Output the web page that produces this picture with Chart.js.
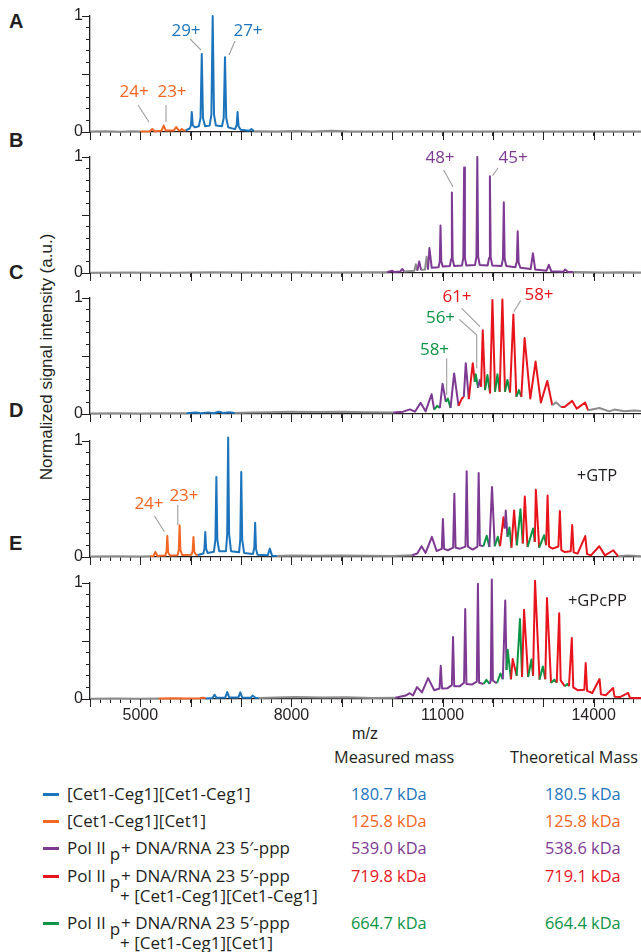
<!DOCTYPE html>
<html>
<head>
<meta charset="utf-8">
<script src="https://cdn.jsdelivr.net/npm/chart.js@4.4.0/dist/chart.umd.min.js"></script>
<style>
    body { margin: 0; background: #fff; }
    #fig { position: relative; width: 641px; height: 952px; overflow: hidden; color: #231f20; font-family: 'Open Sans', sans-serif; }
    #fig canvas { position: absolute; left: 0; }
    .txt { position: absolute; white-space: nowrap; height: 20px; line-height: 20px; }
    .letter { font-family: 'Liberation Sans', Arial, sans-serif; font-weight: bold; font-size: 20px; left: 9px; }
    .sw { position: absolute; left: 43px; width: 16px; height: 3px; }
</style>
</head>
<body>
<div id="fig">
    <div class="txt letter" style="top:11px">A</div>
    <div class="txt letter" style="top:130px">B</div>
    <div class="txt letter" style="top:262px">C</div>
    <div class="txt letter" style="top:400px">D</div>
    <div class="txt letter" style="top:533px">E</div>
    <div class="txt" style="left:-103px;top:347px;width:300px;text-align:center;transform:rotate(-90deg);font-family:'Liberation Sans',Arial,sans-serif;font-size:17px">Normalized signal intensity (a.u.)</div>
    <div class="txt" style="left:335px;top:724px;width:60px;text-align:center;font-family:'Liberation Sans',Arial,sans-serif;font-size:16px">m/z</div>
    <div id="legend"></div>
</div>

<script>
// x range and ticks (m/z)
const xMin = 4000;
const xMax = 14940;
const xMajorTicks = [4000, 5000, 6000, 7000, 8000, 9000, 10000, 11000, 12000, 13000, 14000];
const xTickLabels = [5000, 8000, 11000, 14000];
const yTicks = [0, 0.1, 0.2, 0.3, 0.4, 0.5, 0.6, 0.7, 0.8, 0.9, 1];
const yMajorTicks = [0, 0.5, 1];
const yTickLabels = [0, 1];

// k = unassigned, b = [Cet1-Ceg1][Cet1-Ceg1], o = [Cet1-Ceg1][Cet1],
// p = Pol II + DNA/RNA, r = + dimer, g = + [Cet1-Ceg1][Cet1]
const speciesColor = { k: '#8c8c8c', b: '#1c75bc', o: '#f26522', p: '#7e3a93', r: '#e8141c', g: '#0b9444' };
const ink = '#231f20';

// spectra: [m/z, normalized intensity, species of the segment starting here]
const spectrumA = [
    [4000, 0.004, 'k'], [4300, 0.006, 'k'], [4600, 0.003, 'k'], [4850, 0.006, 'k'],
    [5000, 0.004, 'o'], [5190, 0.006, 'o'], [5237, 0.026, 'o'], [5285, 0.007, 'o'],
    [5420, 0.01, 'o'], [5462, 0.055, 'o'], [5505, 0.012, 'o'],
    [5665, 0.014, 'o'], [5711, 0.043, 'o'], [5755, 0.016, 'o'],
    [5795, 0.014, 'o'], [5824, 0.026, 'o'], [5860, 0.012, 'o'],
    [5900, 0.014, 'b'], [5980, 0.03, 'b'], [6005, 0.06, 'b'], [6021, 0.172, 'b'], [6040, 0.06, 'b'], [6080, 0.04, 'b'],
    [6160, 0.05, 'b'], [6195, 0.12, 'b'], [6219, 0.672, 'b'], [6243, 0.12, 'b'], [6285, 0.05, 'b'],
    [6375, 0.055, 'b'], [6410, 0.15, 'b'], [6436, 1.0, 'b'], [6462, 0.15, 'b'], [6500, 0.055, 'b'],
    [6620, 0.05, 'b'], [6655, 0.12, 'b'], [6680, 0.644, 'b'], [6705, 0.12, 'b'], [6745, 0.04, 'b'],
    [6880, 0.025, 'b'], [6912, 0.06, 'b'], [6930, 0.172, 'b'], [6950, 0.05, 'b'], [6990, 0.02, 'b'],
    [7160, 0.01, 'b'], [7207, 0.026, 'b'], [7255, 0.006, 'k'],
    [7700, 0.004, 'k'], [8100, 0.009, 'k'], [8400, 0.005, 'k'], [8800, 0.01, 'k'], [9200, 0.005, 'k'],
    [9800, 0.004, 'k'], [10600, 0.006, 'k'], [11500, 0.004, 'k'], [12500, 0.005, 'k'], [13500, 0.004, 'k'], [14940, 0.005, 'k']
];

const spectrumB = [
    [4000, 0.003, 'k'], [4800, 0.005, 'k'], [5600, 0.003, 'k'], [6400, 0.006, 'k'], [7200, 0.004, 'k'],
    [8000, 0.006, 'k'], [8800, 0.004, 'k'], [9500, 0.006, 'k'],
    [9900, 0.006, 'p'], [10000, 0.02, 'p'], [10040, 0.008, 'p'], [10160, 0.012, 'p'], [10200, 0.035, 'p'], [10240, 0.012, 'k'],
    [10440, 0.02, 'k'], [10470, 0.075, 'k'], [10500, 0.02, 'p'], [10536, 0.10, 'p'], [10575, 0.025, 'k'],
    [10650, 0.03, 'k'], [10683, 0.14, 'k'], [10710, 0.03, 'p'], [10739, 0.215, 'p'], [10785, 0.045, 'p'],
    [10920, 0.05, 'p'], [10945, 0.1, 'p'], [10959, 0.41, 'p'], [10975, 0.1, 'p'], [11005, 0.055, 'p'],
    [11145, 0.06, 'p'], [11170, 0.12, 'p'], [11185, 0.695, 'p'], [11200, 0.12, 'p'], [11230, 0.06, 'p'],
    [11385, 0.065, 'p'], [11412, 0.13, 'p'], [11428, 0.91, 'p'], [11444, 0.13, 'p'], [11472, 0.065, 'p'],
    [11645, 0.07, 'p'], [11673, 0.14, 'p'], [11690, 1.0, 'p'], [11707, 0.14, 'p'], [11738, 0.07, 'p'],
    [11895, 0.065, 'p'], [11923, 0.13, 'p'], [11940, 0.833, 'p'], [11957, 0.13, 'p'], [11988, 0.065, 'p'],
    [12170, 0.06, 'p'], [12199, 0.12, 'p'], [12216, 0.61, 'p'], [12233, 0.12, 'p'], [12265, 0.06, 'p'],
    [12445, 0.05, 'p'], [12475, 0.1, 'p'], [12492, 0.36, 'p'], [12510, 0.09, 'p'], [12545, 0.045, 'p'],
    [12750, 0.035, 'p'], [12794, 0.17, 'p'], [12840, 0.03, 'p'],
    [13065, 0.02, 'p'], [13110, 0.07, 'p'], [13160, 0.015, 'p'],
    [13395, 0.01, 'p'], [13434, 0.03, 'p'], [13490, 0.008, 'p'], [13600, 0.008, 'k'],
    [13900, 0.006, 'k'], [14200, 0.004, 'k'], [14500, 0.007, 'k'], [14940, 0.005, 'k']
];

const spectrumC = [
    [4000, 0.005, 'k'], [4500, 0.006, 'k'], [5000, 0.004, 'k'], [5500, 0.006, 'k'],
    [5918, 0.006, 'b'], [6100, 0.012, 'b'], [6200, 0.006, 'b'], [6350, 0.014, 'b'], [6450, 0.007, 'b'],
    [6560, 0.02, 'b'], [6650, 0.008, 'b'], [6760, 0.015, 'b'], [6876, 0.008, 'k'],
    [7200, 0.012, 'k'], [7600, 0.016, 'k'], [8000, 0.02, 'k'], [8500, 0.018, 'k'], [9000, 0.02, 'k'], [9500, 0.016, 'k'],
    [10022, 0.012, 'p'], [10220, 0.02, 'p'], [10352, 0.04, 'p'], [10451, 0.02, 'p'], [10564, 0.096, 'p'],
    [10663, 0.023, 'p'], [10782, 0.17, 'p'], [10834, 0.038, 'g'], [10893, 0.07, 'g'], [10946, 0.052, 'p'],
    [11000, 0.26, 'p'], [11065, 0.104, 'g'], [11105, 0.133, 'g'], [11158, 0.052, 'p'], [11230, 0.35, 'p'],
    [11317, 0.07, 'r'], [11382, 0.133, 'r'], [11422, 0.148, 'p'], [11461, 0.438, 'p'], [11521, 0.128, 'r'],
    [11600, 0.438, 'r'], [11639, 0.278, 'g'], [11659, 0.342, 'g'], [11705, 0.226, 'p'], [11738, 0.293, 'p'],
    [11765, 0.235, 'r'], [11798, 0.722, 'r'], [11844, 0.206, 'g'], [11891, 0.336, 'g'], [11943, 0.177, 'r'],
    [11990, 0.983, 'r'], [12042, 0.191, 'g'], [12089, 0.342, 'g'], [12134, 0.191, 'r'], [12188, 0.988, 'r'],
    [12240, 0.191, 'g'], [12287, 0.293, 'g'], [12339, 0.186, 'r'], [12406, 0.858, 'r'], [12465, 0.148, 'g'],
    [12517, 0.206, 'g'], [12564, 0.148, 'r'], [12629, 0.655, 'r'], [12742, 0.133, 'r'], [12847, 0.452, 'r'],
    [12952, 0.099, 'r'], [13079, 0.284, 'r'], [13178, 0.075, 'k'], [13257, 0.1, 'k'], [13356, 0.06, 'r'],
    [13421, 0.06, 'r'], [13574, 0.113, 'r'], [13665, 0.046, 'r'], [13831, 0.099, 'r'], [13891, 0.032, 'k'],
    [14114, 0.052, 'k'], [14312, 0.023, 'k'], [14411, 0.038, 'k'], [14609, 0.023, 'k'], [14807, 0.03, 'k'], [14940, 0.025, 'k']
];

const spectrumD = [
    [4000, 0.004, 'k'], [4500, 0.006, 'k'], [5000, 0.004, 'k'],
    [5193, 0.006, 'o'], [5260, 0.008, 'o'], [5298, 0.043, 'o'], [5340, 0.009, 'o'],
    [5495, 0.012, 'o'], [5520, 0.05, 'o'], [5535, 0.181, 'o'], [5552, 0.04, 'o'], [5585, 0.014, 'o'],
    [5740, 0.016, 'o'], [5763, 0.06, 'o'], [5779, 0.273, 'o'], [5795, 0.06, 'o'], [5830, 0.017, 'o'],
    [6015, 0.02, 'o'], [6038, 0.05, 'o'], [6054, 0.172, 'o'], [6070, 0.045, 'o'], [6105, 0.02, 'o'],
    [6142, 0.017, 'b'], [6250, 0.03, 'b'], [6272, 0.07, 'b'], [6289, 0.216, 'b'], [6306, 0.07, 'b'], [6335, 0.035, 'b'],
    [6460, 0.045, 'b'], [6490, 0.15, 'b'], [6509, 0.69, 'b'], [6528, 0.15, 'b'], [6565, 0.05, 'b'],
    [6700, 0.05, 'b'], [6724, 0.2, 'b'], [6743, 1.03, 'b'], [6762, 0.2, 'b'], [6800, 0.05, 'b'],
    [6960, 0.04, 'b'], [6984, 0.15, 'b'], [7003, 0.733, 'b'], [7022, 0.15, 'b'], [7060, 0.035, 'b'],
    [7235, 0.025, 'b'], [7262, 0.08, 'b'], [7279, 0.296, 'b'], [7296, 0.07, 'b'], [7325, 0.02, 'b'],
    [7530, 0.015, 'b'], [7571, 0.072, 'b'], [7615, 0.01, 'b'], [7710, 0.008, 'k'],
    [8000, 0.012, 'k'], [8500, 0.01, 'k'], [9000, 0.013, 'k'], [9500, 0.01, 'k'], [10000, 0.008, 'k'],
    [10398, 0.015, 'p'], [10498, 0.03, 'p'], [10583, 0.093, 'p'], [10663, 0.035, 'p'],
    [10788, 0.174, 'p'], [10882, 0.052, 'p'],
    [10985, 0.07, 'p'], [11007, 0.328, 'p'], [11030, 0.07, 'p'], [11106, 0.058, 'p'],
    [11210, 0.08, 'p'], [11234, 0.545, 'p'], [11258, 0.08, 'p'], [11346, 0.072, 'p'],
    [11455, 0.09, 'p'], [11479, 0.739, 'p'], [11503, 0.09, 'p'], [11598, 0.064, 'p'],
    [11693, 0.09, 'p'], [11717, 0.725, 'p'], [11741, 0.1, 'p'],
    [11811, 0.093, 'g'], [11877, 0.183, 'g'], [11930, 0.087, 'p'], [11982, 0.603, 'p'],
    [12036, 0.093, 'g'], [12096, 0.174, 'g'], [12141, 0.093, 'r'], [12209, 0.342, 'r'],
    [12235, 0.246, 'p'], [12255, 0.4, 'p'], [12289, 0.174, 'g'], [12328, 0.255, 'g'],
    [12368, 0.081, 'r'], [12420, 0.4, 'r'], [12474, 0.101, 'g'], [12547, 0.412, 'g'],
    [12593, 0.116, 'r'], [12633, 0.522, 'r'], [12687, 0.087, 'g'], [12798, 0.246, 'g'],
    [12832, 0.13, 'r'], [12852, 0.58, 'r'], [12918, 0.081, 'g'], [13017, 0.188, 'g'],
    [13057, 0.101, 'r'], [13085, 0.53, 'r'], [13115, 0.09, 'r'], [13184, 0.072, 'r'],
    [13300, 0.09, 'r'], [13329, 0.397, 'r'], [13358, 0.06, 'r'], [13429, 0.043, 'r'],
    [13545, 0.05, 'r'], [13574, 0.275, 'r'], [13603, 0.04, 'r'], [13681, 0.029, 'r'],
    [13833, 0.18, 'r'], [13870, 0.025, 'r'], [13946, 0.014, 'r'], [14111, 0.093, 'r'], [14225, 0.014, 'r'],
    [14390, 0.058, 'r'], [14490, 0.006, 'k'], [14677, 0.014, 'k'], [14940, 0.006, 'k']
];

const spectrumE = [
    [4000, 0.003, 'k'], [4500, 0.005, 'k'], [5000, 0.003, 'k'],
    [5362, 0.004, 'o'], [5650, 0.006, 'o'], [5950, 0.004, 'o'], [6180, 0.006, 'o'], [6250, 0.012, 'o'],
    [6300, 0.005, 'b'], [6430, 0.008, 'b'], [6473, 0.037, 'b'], [6515, 0.01, 'b'],
    [6685, 0.012, 'b'], [6725, 0.06, 'b'], [6765, 0.012, 'b'],
    [6945, 0.012, 'b'], [6984, 0.057, 'b'], [7025, 0.01, 'b'],
    [7190, 0.01, 'b'], [7227, 0.03, 'b'], [7290, 0.008, 'b'],
    [7349, 0.008, 'k'], [7700, 0.012, 'k'], [8100, 0.017, 'k'], [8600, 0.014, 'k'], [9100, 0.015, 'k'], [9600, 0.009, 'k'],
    [10064, 0.01, 'p'], [10267, 0.03, 'p'], [10348, 0.05, 'p'], [10413, 0.03, 'p'],
    [10494, 0.103, 'p'], [10591, 0.057, 'p'],
    [10713, 0.18, 'p'], [10835, 0.075, 'p'],
    [10940, 0.09, 'p'], [10964, 0.287, 'p'], [10990, 0.09, 'p'], [11093, 0.092, 'p'],
    [11185, 0.12, 'p'], [11208, 0.534, 'p'], [11232, 0.11, 'p'], [11337, 0.109, 'p'],
    [11427, 0.14, 'p'], [11450, 0.776, 'p'], [11474, 0.13, 'p'], [11581, 0.124, 'p'],
    [11680, 0.15, 'p'], [11702, 0.994, 'p'], [11725, 0.14, 'p'],
    [11815, 0.13, 'g'], [11870, 0.165, 'g'], [11935, 0.13, 'p'],
    [11958, 0.16, 'p'], [11978, 1.03, 'p'], [11999, 0.16, 'p'], [12060, 0.14, 'p'],
    [12083, 0.14, 'g'], [12148, 0.22, 'g'], [12196, 0.17, 'p'], [12245, 0.85, 'p'],
    [12270, 0.25, 'g'], [12293, 0.425, 'g'], [12358, 0.17, 'r'], [12392, 0.345, 'r'],
    [12472, 0.2, 'g'], [12537, 0.69, 'g'], [12578, 0.19, 'r'], [12618, 0.77, 'r'],
    [12699, 0.19, 'g'], [12765, 0.34, 'g'], [12797, 0.2, 'r'], [12836, 1.02, 'r'],
    [12925, 0.167, 'g'], [12991, 0.28, 'g'], [13040, 0.17, 'r'], [13073, 0.87, 'r'],
    [13154, 0.138, 'g'], [13219, 0.167, 'g'], [13267, 0.14, 'r'], [13316, 0.74, 'r'], [13345, 0.16, 'r'],
    [13429, 0.109, 'g'], [13477, 0.13, 'g'], [13510, 0.11, 'r'], [13566, 0.526, 'r'], [13595, 0.1, 'r'],
    [13689, 0.075, 'r'], [13815, 0.08, 'r'], [13842, 0.31, 'r'], [13870, 0.07, 'r'],
    [13972, 0.052, 'r'], [14117, 0.172, 'r'], [14145, 0.04, 'r'], [14240, 0.032, 'r'],
    [14385, 0.095, 'r'], [14415, 0.02, 'r'], [14524, 0.017, 'r'], [14687, 0.052, 'r'], [14720, 0.01, 'r'],
    [14808, 0.009, 'r'], [14940, 0.009, 'r']
];

// charge state labels and their leader lines, in data units
const notesA = [['29+', 5906, 0.871, 'b'], ['27+', 7137, 0.871, 'b'], ['24+', 4874, 0.345, 'o'], ['23+', 5628, 0.345, 'o']];
const leadersA = [[[5986, 0.802], [6204, 0.707]], [[6879, 0.784], [6760, 0.664]], [[4953, 0.233], [5171, 0.086]], [[5509, 0.233], [5509, 0.086]]];
const notesB = [['48+', 10949, 0.991, 'p'], ['45+', 12399, 0.991, 'p']];
const leadersB = [[[11021, 0.888], [11207, 0.744]], [[12101, 0.905], [11994, 0.839]]];
const notesC = [['61+', 11287, 1.011, 'r'], ['58+', 12915, 1.028, 'r'], ['56+', 10959, 0.825, 'g'], ['58+', 10840, 0.552, 'g']];
const leadersC = [[[11380, 0.911], [11743, 0.753]], [[11333, 0.816], [11678, 0.681], [11678, 0.394]], [[12552, 0.977], [12413, 0.882]], [[11082, 0.48], [11082, 0.164]]];
const notesD = [['24+', 5171, 0.457, 'o'], ['23+', 5866, 0.526, 'o'], ['+GTP', 14066, 0.698, 'ink']];
const leadersD = [[[5281, 0.353], [5477, 0.218]], [[5743, 0.448], [5743, 0.276]]];
const notesE = [['+GPcPP', 14076, 0.839, 'ink']];
const leadersE = [];

// legend table
const legendSpecies = ['b', 'o', 'p', 'r', 'g'];
const legendLine1 = ['[Cet1-Ceg1][Cet1-Ceg1]', '[Cet1-Ceg1][Cet1]', 'Pol II|+ DNA/RNA 23 5\u2032-ppp', 'Pol II|+ DNA/RNA 23 5\u2032-ppp', 'Pol II|+ DNA/RNA 23 5\u2032-ppp'];
const legendLine2 = ['', '', '', '+ [Cet1-Ceg1][Cet1-Ceg1]', '+ [Cet1-Ceg1][Cet1]'];
const measuredMass = ['180.7 kDa', '125.8 kDa', '539.0 kDa', '719.8 kDa', '664.7 kDa'];
const theoreticalMass = ['180.5 kDa', '125.8 kDa', '538.6 kDa', '719.1 kDa', '664.4 kDa'];
const legendRowY = [794, 821, 848, 876, 923];

const xMinorTicks = [];
for (let v = xMin; v <= 14800; v += 200) xMinorTicks.push(v);

const marksPlugin = {
    id: 'marks',
    afterDatasetsDraw: function (chart, args, opts) {
        const ctx = chart.ctx;
        const x = chart.scales.x;
        const y = chart.scales.y;
        const area = chart.chartArea;
        ctx.save();
        // longer major ticks
        ctx.strokeStyle = ink;
        ctx.lineWidth = 1;
        ctx.beginPath();
        xMajorTicks.forEach(v => {
            const px = Math.round(x.getPixelForValue(v)) + 0.5;
            ctx.moveTo(px, area.bottom);
            ctx.lineTo(px, area.bottom + 8);
        });
        yMajorTicks.forEach(v => {
            const py = Math.round(y.getPixelForValue(v)) + 0.5;
            ctx.moveTo(area.left - 8, py);
            ctx.lineTo(area.left, py);
        });
        ctx.stroke();
        // leader lines
        ctx.strokeStyle = '#9d9d9d';
        ctx.lineWidth = 1.1;
        opts.leaders.forEach(path => {
            ctx.beginPath();
            path.forEach((p, i) => {
                const px = x.getPixelForValue(p[0]);
                const py = y.getPixelForValue(p[1]);
                if (i === 0) ctx.moveTo(px, py); else ctx.lineTo(px, py);
            });
            ctx.stroke();
        });
        // labels
        ctx.textAlign = 'center';
        ctx.textBaseline = 'middle';
        opts.notes.forEach(n => {
            ctx.fillStyle = n[3] === 'ink' ? ink : speciesColor[n[3]];
            ctx.font = (n[3] === 'ink' ? '16.5px' : '17px') + " 'Open Sans', sans-serif";
            ctx.fillText(n[0], x.getPixelForValue(n[1]), y.getPixelForValue(n[2]));
        });
        ctx.restore();
    }
};

Chart.defaults.font.family = "'Liberation Sans', Arial, sans-serif";
Chart.defaults.font.size = 16;
Chart.defaults.color = ink;

function buildPanel(plotTop, spectrum, notes, leaders, showLabels) {
    const canvas = document.createElement('canvas');
    const axisH = showLabels ? 40 : 14;
    canvas.width = 641;
    canvas.height = 24 + 116 + axisH;
    canvas.style.top = (plotTop - 24) + 'px';
    document.getElementById('fig').appendChild(canvas);

    return new Chart(canvas, {
        type: 'line',
        data: {
            datasets: [{
                data: spectrum.map(p => ({ x: p[0], y: p[1] })),
                borderColor: speciesColor[spectrum[0][2]],
                borderWidth: 2,
                borderJoinStyle: 'round',
                pointRadius: 0,
                tension: 0,
                fill: false,
                clip: false,
                segment: {
                    borderColor: c => speciesColor[spectrum[c.p0DataIndex][2]]
                }
            }]
        },
        options: {
            responsive: false,
            animation: false,
            devicePixelRatio: 1,
            layout: { padding: { top: 24, left: 0, right: 0, bottom: 0 } },
            plugins: {
                legend: { display: false },
                tooltip: { enabled: false },
                marks: { notes: notes, leaders: leaders }
            },
            scales: {
                x: {
                    type: 'linear',
                    min: xMin,
                    max: xMax,
                    afterBuildTicks: s => { s.ticks = xMinorTicks.map(v => ({ value: v })); },
                    afterFit: s => { s.height = axisH; },
                    grid: { drawOnChartArea: false, color: ink, tickLength: 4, lineWidth: 1 },
                    border: { color: ink, width: 1.3 },
                    ticks: {
                        display: showLabels,
                        autoSkip: false,
                        maxRotation: 0,
                        padding: 3,
                        callback: v => xTickLabels.includes(v) ? String(v) : ''
                    }
                },
                y: {
                    min: 0,
                    max: 1,
                    afterBuildTicks: s => { s.ticks = yTicks.map(v => ({ value: v })); },
                    afterFit: s => { s.width = 90; },
                    grid: { drawOnChartArea: false, color: ink, tickLength: 4, lineWidth: 1 },
                    border: { color: ink, width: 1.3 },
                    ticks: {
                        autoSkip: false,
                        padding: 3,
                        callback: v => yTickLabels.includes(v) ? String(v) : ''
                    }
                }
            }
        },
        plugins: [marksPlugin]
    });
}

function buildLegend() {
    const box = document.getElementById('legend');
    let html = '';
    html += '<div class="txt" style="left:334px;top:747px;font-size:16.3px">Measured mass</div>';
    html += '<div class="txt" style="left:510px;top:747px;font-size:16.3px">Theoretical Mass</div>';
    legendSpecies.forEach((s, i) => {
        const yc = legendRowY[i];
        const col = speciesColor[s];
        const parts = legendLine1[i].split('|');
        let line1 = parts[0];
        if (parts.length > 1) {
            line1 += '<span style="position:relative;top:6px;margin:0 1px 0 4px">p</span>' + parts[1];
        }
        html += '<div class="sw" style="top:' + (yc - 1) + 'px;background:' + col + '"></div>';
        html += '<div class="txt" style="left:67px;top:' + (yc - 10) + 'px;font-size:17px">' + line1 + '</div>';
        if (legendLine2[i]) {
            html += '<div class="txt" style="left:120px;top:' + (yc + 10) + 'px;font-size:17px">' + legendLine2[i] + '</div>';
        }
        html += '<div class="txt" style="left:351px;top:' + (yc - 10) + 'px;font-size:16.4px;color:' + col + '">' + measuredMass[i] + '</div>';
        html += '<div class="txt" style="left:545px;top:' + (yc - 10) + 'px;font-size:16.4px;color:' + col + '">' + theoreticalMass[i] + '</div>';
    });
    box.innerHTML = html;
}

document.addEventListener('DOMContentLoaded', function () {
    buildPanel(16, spectrumA, notesA, leadersA, false);
    buildPanel(157, spectrumB, notesB, leadersB, false);
    buildPanel(298, spectrumC, notesC, leadersC, false);
    buildPanel(441, spectrumD, notesD, leadersD, false);
    buildPanel(583, spectrumE, notesE, leadersE, true);
    buildLegend();
});
</script>
</body>
</html>
